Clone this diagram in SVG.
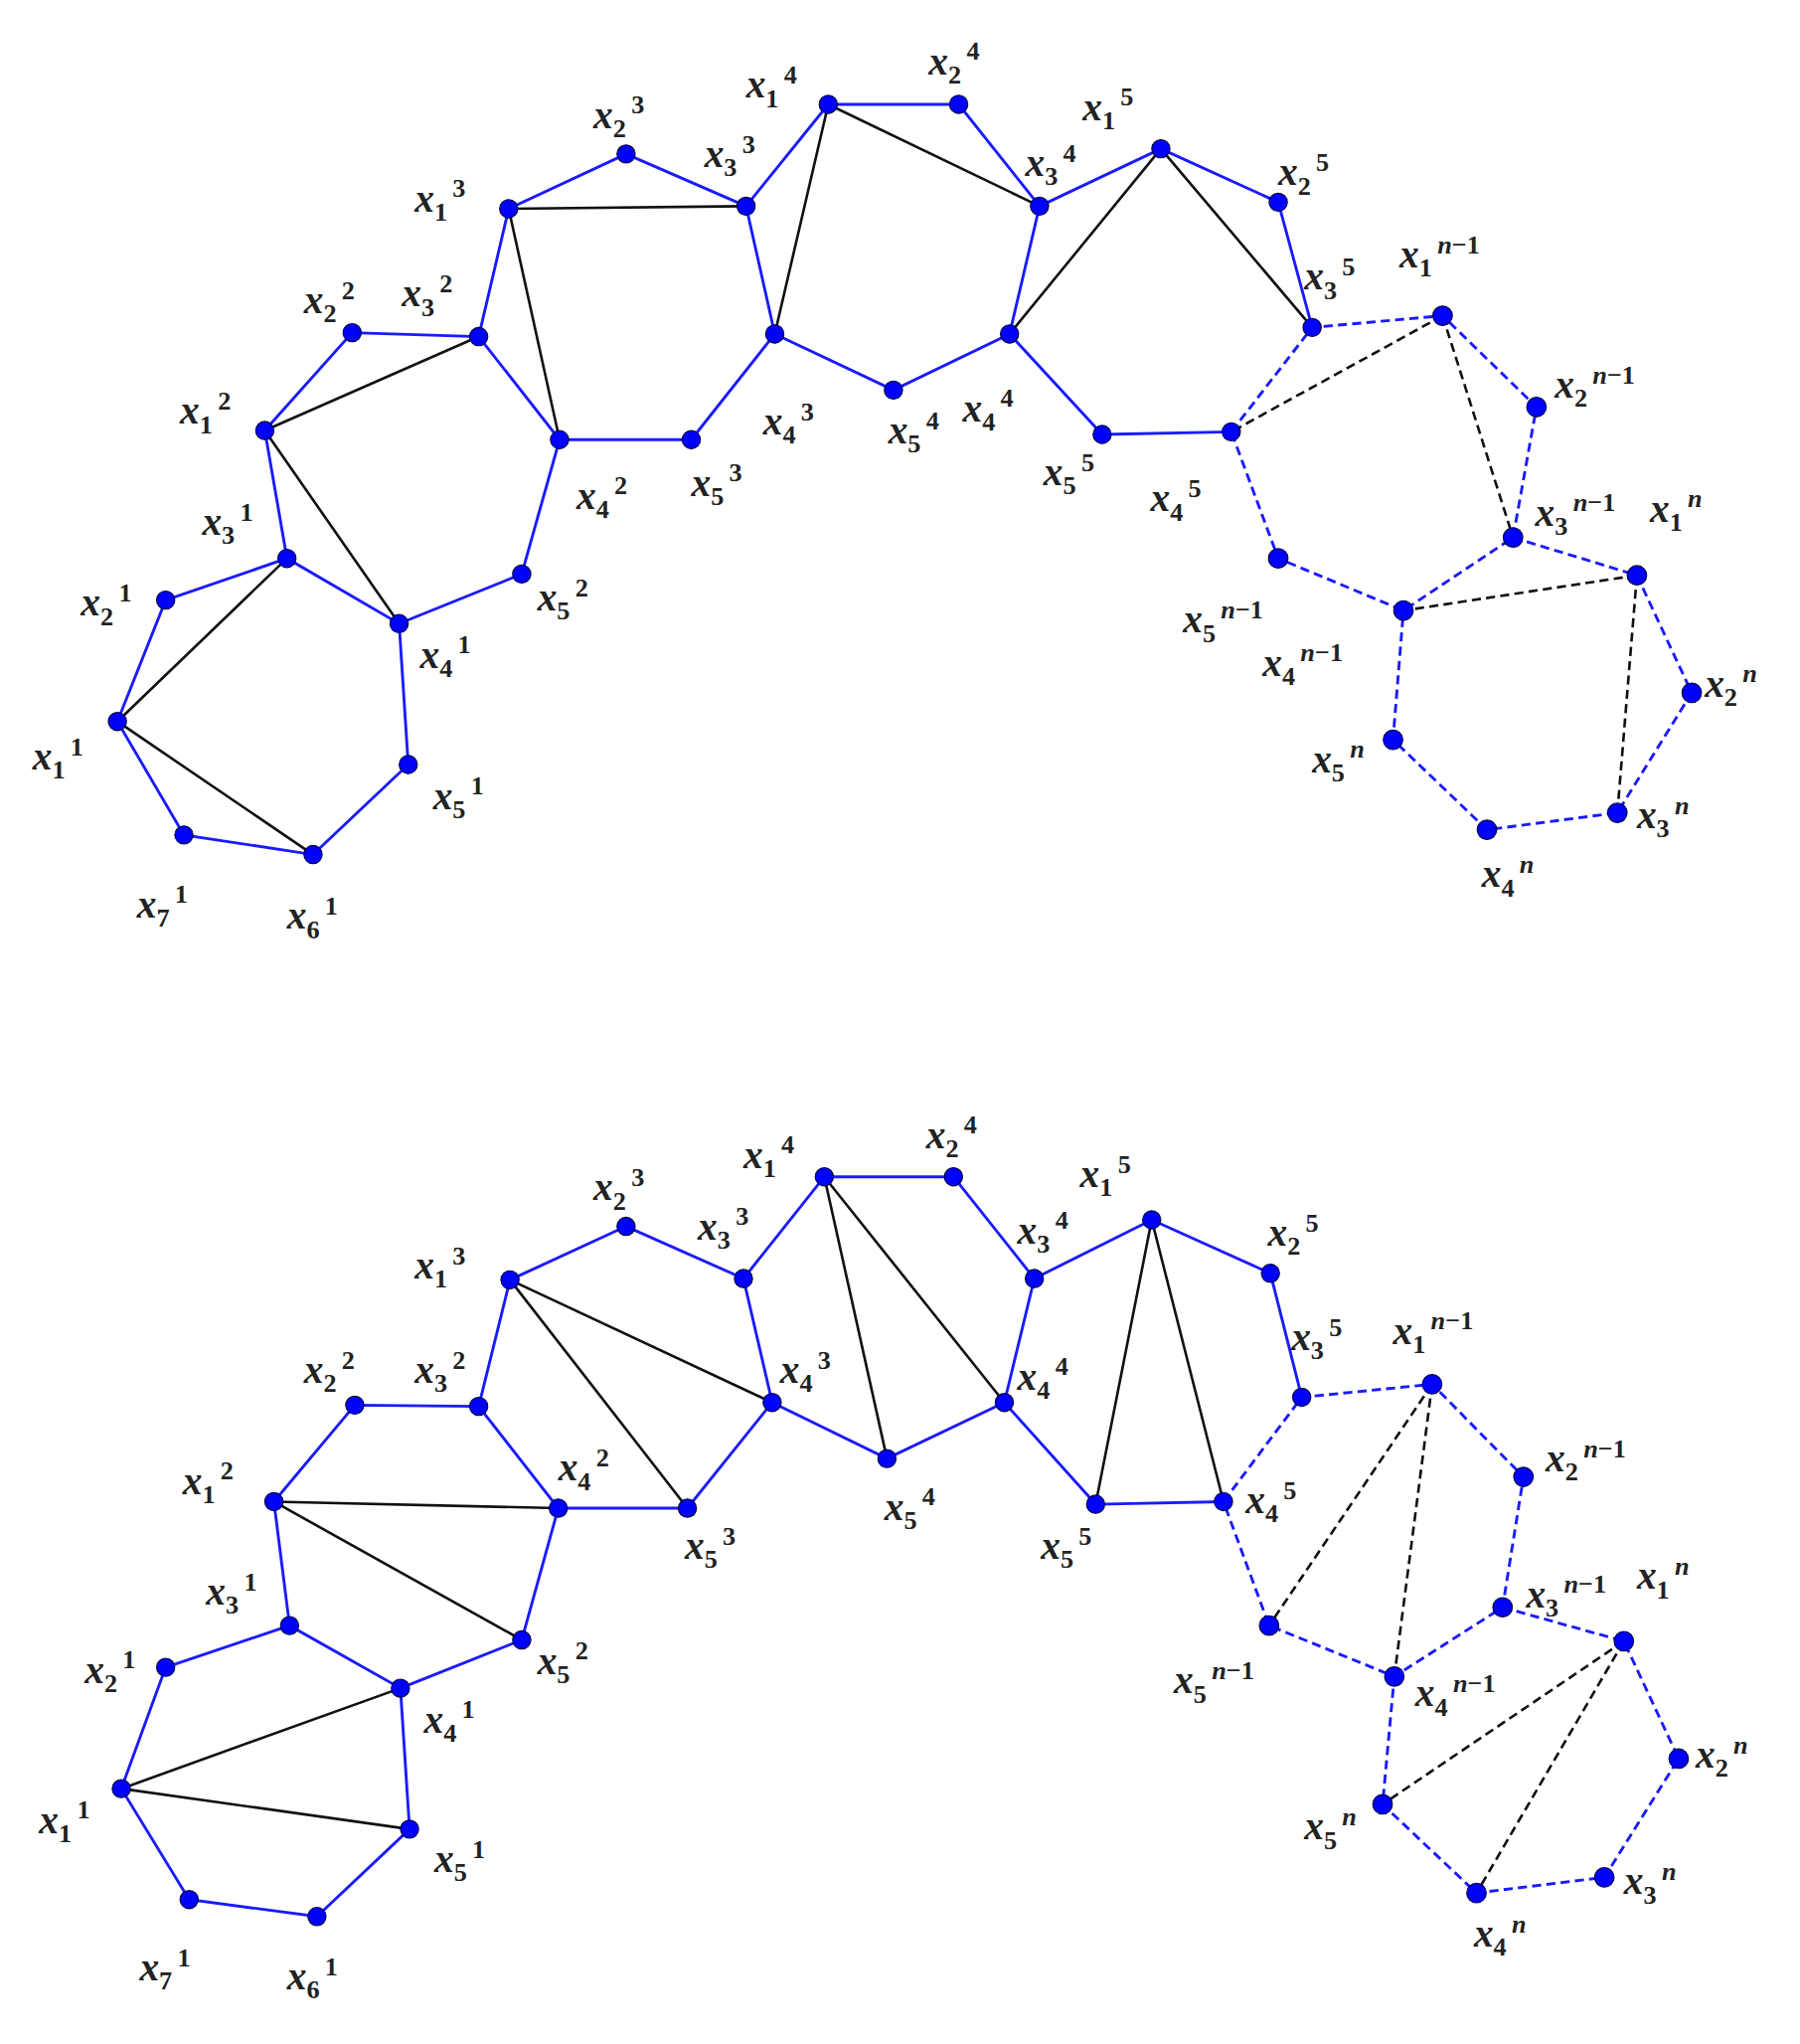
<svg xmlns="http://www.w3.org/2000/svg" width="1811" height="2056" viewBox="0 0 1811 2056">
<style>
.b{stroke:#1a1aff;stroke-width:2.2;fill:none}
.k{stroke:#111;stroke-width:2;fill:none}
.d{stroke-dasharray:7,4}
.n{fill:#0000ff;stroke:#000033;stroke-width:0.8}
text{font-family:'Times New Roman','Liberation Serif','DejaVu Serif',serif;font-style:italic;font-weight:bold;font-size:30px;fill:#222}
.s{font-size:20px;font-style:normal}
.i{font-style:italic}
</style>
<rect width="1811" height="2056" fill="#fff"/>
<g transform="scale(1.3123)">
<g id="connectors">
<path class="b" d="M90,553 L127,460 L220,428 L306,478 L313,586 L240,655 L141,640 Z"/>
<path class="b" d="M220,428 L203,330 L270,255 L367,258 L429,337 L400,440 L306,478"/>
<path class="b" d="M367,258 L390,160 L480,118 L572,158 L594,256 L530,337 L429,337"/>
<path class="b" d="M572,158 L635,80 L735,80 L797,158 L774,256 L685,299 L594,256"/>
<path class="b" d="M797,158 L890,114 L980,155 L1006,251"/>
<path class="b" d="M774,256 L845,333 L944,331"/>
<path class="b d" d="M944,331 L1006,251 L1106,242 L1178,312 L1160,412 L1076,468 L980,428 L944,331"/>
<path class="b d" d="M1160,412 L1255,441 L1297,531 L1240,623 L1140,636 L1068,567 L1076,468"/>
<path class="k" d="M90,553 L220,428 M90,553 L240,655 M203,330 L367,258 M203,330 L306,478 M390,160 L572,158 M390,160 L429,337 M635,80 L797,158 M635,80 L594,256 M890,114 L774,256 M890,114 L1006,251"/>
<path class="k d" d="M1106,242 L944,331 M1106,242 L1160,412 M1255,441 L1076,468 M1255,441 L1240,623"/>
<path class="b" d="M93,1371 L127,1278 L222,1246 L307,1294 L314,1402 L243,1469 L145,1456 Z"/>
<path class="b" d="M222,1246 L210,1151 L272,1077 L367,1078 L428,1156 L400,1257 L307,1294"/>
<path class="b" d="M367,1078 L391,981 L480,940 L570,980 L592,1075 L527,1156 L428,1156"/>
<path class="b" d="M570,980 L632,902 L731,902 L793,980 L770,1075 L680,1118 L592,1075"/>
<path class="b" d="M793,980 L883,935 L974,976 L998,1071"/>
<path class="b" d="M770,1075 L840,1153 L938,1151"/>
<path class="b d" d="M938,1151 L998,1071 L1098,1061 L1168,1132 L1152,1232 L1069,1285 L973,1246 L938,1151"/>
<path class="b d" d="M1152,1232 L1245,1258 L1287,1348 L1230,1439 L1132,1451 L1060,1383 L1069,1285"/>
<path class="k" d="M93,1371 L307,1294 M93,1371 L314,1402 M210,1151 L428,1156 M210,1151 L400,1257 M391,981 L592,1075 M391,981 L527,1156 M632,902 L680,1118 M632,902 L770,1075 M883,935 L840,1153 M883,935 L938,1151"/>
<path class="k d" d="M1098,1061 L973,1246 M1098,1061 L1069,1285 M1245,1258 L1060,1383 M1245,1258 L1132,1451"/>
</g>
<g id="nodes-top">
<g id="t11"><circle class="n" cx="90" cy="553" r="7"/><text x="25" y="590">x<tspan class="s" dy="7">1</tspan><tspan class="s" dx="4" dy="-18">1</tspan></text></g>
<g id="t21"><circle class="n" cx="127" cy="460" r="7"/><text x="62" y="472">x<tspan class="s" dy="7">2</tspan><tspan class="s" dx="4" dy="-18">1</tspan></text></g>
<g id="t31"><circle class="n" cx="220" cy="428" r="7"/><text x="155" y="410">x<tspan class="s" dy="7">3</tspan><tspan class="s" dx="4" dy="-18">1</tspan></text></g>
<g id="t41"><circle class="n" cx="306" cy="478" r="7"/><text x="322" y="512">x<tspan class="s" dy="7">4</tspan><tspan class="s" dx="4" dy="-18">1</tspan></text></g>
<g id="t51"><circle class="n" cx="313" cy="586" r="7"/><text x="332" y="620">x<tspan class="s" dy="7">5</tspan><tspan class="s" dx="4" dy="-18">1</tspan></text></g>
<g id="t61"><circle class="n" cx="240" cy="655" r="7"/><text x="220" y="712">x<tspan class="s" dy="7">6</tspan><tspan class="s" dx="4" dy="-18">1</tspan></text></g>
<g id="t71"><circle class="n" cx="141" cy="640" r="7"/><text x="105" y="703">x<tspan class="s" dy="7">7</tspan><tspan class="s" dx="4" dy="-18">1</tspan></text></g>
<g id="t12"><circle class="n" cx="203" cy="330" r="7"/><text x="138" y="325">x<tspan class="s" dy="7">1</tspan><tspan class="s" dx="4" dy="-18">2</tspan></text></g>
<g id="t22"><circle class="n" cx="270" cy="255" r="7"/><text x="233" y="240">x<tspan class="s" dy="7">2</tspan><tspan class="s" dx="4" dy="-18">2</tspan></text></g>
<g id="t32"><circle class="n" cx="367" cy="258" r="7"/><text x="308" y="235">x<tspan class="s" dy="7">3</tspan><tspan class="s" dx="4" dy="-18">2</tspan></text></g>
<g id="t42"><circle class="n" cx="429" cy="337" r="7"/><text x="442" y="390">x<tspan class="s" dy="7">4</tspan><tspan class="s" dx="4" dy="-18">2</tspan></text></g>
<g id="t52"><circle class="n" cx="400" cy="440" r="7"/><text x="412" y="468">x<tspan class="s" dy="7">5</tspan><tspan class="s" dx="4" dy="-18">2</tspan></text></g>
<g id="t13"><circle class="n" cx="390" cy="160" r="7"/><text x="318" y="162">x<tspan class="s" dy="7">1</tspan><tspan class="s" dx="4" dy="-18">3</tspan></text></g>
<g id="t23"><circle class="n" cx="480" cy="118" r="7"/><text x="455" y="98">x<tspan class="s" dy="7">2</tspan><tspan class="s" dx="4" dy="-18">3</tspan></text></g>
<g id="t33"><circle class="n" cx="572" cy="158" r="7"/><text x="540" y="128">x<tspan class="s" dy="7">3</tspan><tspan class="s" dx="4" dy="-18">3</tspan></text></g>
<g id="t43"><circle class="n" cx="594" cy="256" r="7"/><text x="585" y="333">x<tspan class="s" dy="7">4</tspan><tspan class="s" dx="4" dy="-18">3</tspan></text></g>
<g id="t53"><circle class="n" cx="530" cy="337" r="7"/><text x="530" y="380">x<tspan class="s" dy="7">5</tspan><tspan class="s" dx="4" dy="-18">3</tspan></text></g>
<g id="t14"><circle class="n" cx="635" cy="80" r="7"/><text x="572" y="75">x<tspan class="s" dy="7">1</tspan><tspan class="s" dx="4" dy="-18">4</tspan></text></g>
<g id="t24"><circle class="n" cx="735" cy="80" r="7"/><text x="712" y="57">x<tspan class="s" dy="7">2</tspan><tspan class="s" dx="4" dy="-18">4</tspan></text></g>
<g id="t34"><circle class="n" cx="797" cy="158" r="7"/><text x="786" y="135">x<tspan class="s" dy="7">3</tspan><tspan class="s" dx="4" dy="-18">4</tspan></text></g>
<g id="t44"><circle class="n" cx="774" cy="256" r="7"/><text x="738" y="323">x<tspan class="s" dy="7">4</tspan><tspan class="s" dx="4" dy="-18">4</tspan></text></g>
<g id="t54"><circle class="n" cx="685" cy="299" r="7"/><text x="681" y="340">x<tspan class="s" dy="7">5</tspan><tspan class="s" dx="4" dy="-18">4</tspan></text></g>
<g id="t15"><circle class="n" cx="890" cy="114" r="7"/><text x="830" y="92">x<tspan class="s" dy="7">1</tspan><tspan class="s" dx="4" dy="-18">5</tspan></text></g>
<g id="t25"><circle class="n" cx="980" cy="155" r="7"/><text x="980" y="142">x<tspan class="s" dy="7">2</tspan><tspan class="s" dx="4" dy="-18">5</tspan></text></g>
<g id="t35"><circle class="n" cx="1006" cy="251" r="7"/><text x="1000" y="222">x<tspan class="s" dy="7">3</tspan><tspan class="s" dx="4" dy="-18">5</tspan></text></g>
<g id="t45"><circle class="n" cx="944" cy="331" r="7"/><text x="882" y="392">x<tspan class="s" dy="7">4</tspan><tspan class="s" dx="4" dy="-18">5</tspan></text></g>
<g id="t55"><circle class="n" cx="845" cy="333" r="7"/><text x="800" y="372">x<tspan class="s" dy="7">5</tspan><tspan class="s" dx="4" dy="-18">5</tspan></text></g>
<g id="t1m"><circle class="n" cx="1106" cy="242" r="7.5"/><text x="1073" y="205">x<tspan class="s" dy="7">1</tspan><tspan class="s i" dx="4" dy="-18">n</tspan><tspan class="s">−1</tspan></text></g>
<g id="t2m"><circle class="n" cx="1178" cy="312" r="7.5"/><text x="1192" y="305">x<tspan class="s" dy="7">2</tspan><tspan class="s i" dx="4" dy="-18">n</tspan><tspan class="s">−1</tspan></text></g>
<g id="t3m"><circle class="n" cx="1160" cy="412" r="7.5"/><text x="1177" y="403">x<tspan class="s" dy="7">3</tspan><tspan class="s i" dx="4" dy="-18">n</tspan><tspan class="s">−1</tspan></text></g>
<g id="t4m"><circle class="n" cx="1076" cy="468" r="7.5"/><text x="968" y="518">x<tspan class="s" dy="7">4</tspan><tspan class="s i" dx="4" dy="-18">n</tspan><tspan class="s">−1</tspan></text></g>
<g id="t5m"><circle class="n" cx="980" cy="428" r="7.5"/><text x="907" y="485">x<tspan class="s" dy="7">5</tspan><tspan class="s i" dx="4" dy="-18">n</tspan><tspan class="s">−1</tspan></text></g>
<g id="t1n"><circle class="n" cx="1255" cy="441" r="7.5"/><text x="1265" y="400">x<tspan class="s" dy="7">1</tspan><tspan class="s i" dx="4" dy="-18">n</tspan></text></g>
<g id="t2n"><circle class="n" cx="1297" cy="531" r="7.5"/><text x="1307" y="534">x<tspan class="s" dy="7">2</tspan><tspan class="s i" dx="4" dy="-18">n</tspan></text></g>
<g id="t3n"><circle class="n" cx="1240" cy="623" r="7.5"/><text x="1255" y="635">x<tspan class="s" dy="7">3</tspan><tspan class="s i" dx="4" dy="-18">n</tspan></text></g>
<g id="t4n"><circle class="n" cx="1140" cy="636" r="7.5"/><text x="1136" y="680">x<tspan class="s" dy="7">4</tspan><tspan class="s i" dx="4" dy="-18">n</tspan></text></g>
<g id="t5n"><circle class="n" cx="1068" cy="567" r="7.5"/><text x="1006" y="592">x<tspan class="s" dy="7">5</tspan><tspan class="s i" dx="4" dy="-18">n</tspan></text></g>
</g>
<g id="nodes-bottom">
<g id="b11"><circle class="n" cx="93" cy="1371" r="7"/><text x="30" y="1405">x<tspan class="s" dy="7">1</tspan><tspan class="s" dx="4" dy="-18">1</tspan></text></g>
<g id="b21"><circle class="n" cx="127" cy="1278" r="7"/><text x="65" y="1290">x<tspan class="s" dy="7">2</tspan><tspan class="s" dx="4" dy="-18">1</tspan></text></g>
<g id="b31"><circle class="n" cx="222" cy="1246" r="7"/><text x="158" y="1230">x<tspan class="s" dy="7">3</tspan><tspan class="s" dx="4" dy="-18">1</tspan></text></g>
<g id="b41"><circle class="n" cx="307" cy="1294" r="7"/><text x="325" y="1328">x<tspan class="s" dy="7">4</tspan><tspan class="s" dx="4" dy="-18">1</tspan></text></g>
<g id="b51"><circle class="n" cx="314" cy="1402" r="7"/><text x="333" y="1435">x<tspan class="s" dy="7">5</tspan><tspan class="s" dx="4" dy="-18">1</tspan></text></g>
<g id="b61"><circle class="n" cx="243" cy="1469" r="7"/><text x="220" y="1525">x<tspan class="s" dy="7">6</tspan><tspan class="s" dx="4" dy="-18">1</tspan></text></g>
<g id="b71"><circle class="n" cx="145" cy="1456" r="7"/><text x="107" y="1518">x<tspan class="s" dy="7">7</tspan><tspan class="s" dx="4" dy="-18">1</tspan></text></g>
<g id="b12"><circle class="n" cx="210" cy="1151" r="7"/><text x="140" y="1145">x<tspan class="s" dy="7">1</tspan><tspan class="s" dx="4" dy="-18">2</tspan></text></g>
<g id="b22"><circle class="n" cx="272" cy="1077" r="7"/><text x="233" y="1060">x<tspan class="s" dy="7">2</tspan><tspan class="s" dx="4" dy="-18">2</tspan></text></g>
<g id="b32"><circle class="n" cx="367" cy="1078" r="7"/><text x="318" y="1060">x<tspan class="s" dy="7">3</tspan><tspan class="s" dx="4" dy="-18">2</tspan></text></g>
<g id="b42"><circle class="n" cx="428" cy="1156" r="7"/><text x="428" y="1135">x<tspan class="s" dy="7">4</tspan><tspan class="s" dx="4" dy="-18">2</tspan></text></g>
<g id="b52"><circle class="n" cx="400" cy="1257" r="7"/><text x="412" y="1283">x<tspan class="s" dy="7">5</tspan><tspan class="s" dx="4" dy="-18">2</tspan></text></g>
<g id="b13"><circle class="n" cx="391" cy="981" r="7"/><text x="318" y="980">x<tspan class="s" dy="7">1</tspan><tspan class="s" dx="4" dy="-18">3</tspan></text></g>
<g id="b23"><circle class="n" cx="480" cy="940" r="7"/><text x="455" y="920">x<tspan class="s" dy="7">2</tspan><tspan class="s" dx="4" dy="-18">3</tspan></text></g>
<g id="b33"><circle class="n" cx="570" cy="980" r="7"/><text x="535" y="950">x<tspan class="s" dy="7">3</tspan><tspan class="s" dx="4" dy="-18">3</tspan></text></g>
<g id="b43"><circle class="n" cx="592" cy="1075" r="7"/><text x="598" y="1060">x<tspan class="s" dy="7">4</tspan><tspan class="s" dx="4" dy="-18">3</tspan></text></g>
<g id="b53"><circle class="n" cx="527" cy="1156" r="7"/><text x="525" y="1195">x<tspan class="s" dy="7">5</tspan><tspan class="s" dx="4" dy="-18">3</tspan></text></g>
<g id="b14"><circle class="n" cx="632" cy="902" r="7"/><text x="570" y="895">x<tspan class="s" dy="7">1</tspan><tspan class="s" dx="4" dy="-18">4</tspan></text></g>
<g id="b24"><circle class="n" cx="731" cy="902" r="7"/><text x="710" y="880">x<tspan class="s" dy="7">2</tspan><tspan class="s" dx="4" dy="-18">4</tspan></text></g>
<g id="b34"><circle class="n" cx="793" cy="980" r="7"/><text x="780" y="953">x<tspan class="s" dy="7">3</tspan><tspan class="s" dx="4" dy="-18">4</tspan></text></g>
<g id="b44"><circle class="n" cx="770" cy="1075" r="7"/><text x="780" y="1065">x<tspan class="s" dy="7">4</tspan><tspan class="s" dx="4" dy="-18">4</tspan></text></g>
<g id="b54"><circle class="n" cx="680" cy="1118" r="7"/><text x="678" y="1165">x<tspan class="s" dy="7">5</tspan><tspan class="s" dx="4" dy="-18">4</tspan></text></g>
<g id="b15"><circle class="n" cx="883" cy="935" r="7"/><text x="828" y="910">x<tspan class="s" dy="7">1</tspan><tspan class="s" dx="4" dy="-18">5</tspan></text></g>
<g id="b25"><circle class="n" cx="974" cy="976" r="7"/><text x="972" y="955">x<tspan class="s" dy="7">2</tspan><tspan class="s" dx="4" dy="-18">5</tspan></text></g>
<g id="b35"><circle class="n" cx="998" cy="1071" r="7"/><text x="990" y="1035">x<tspan class="s" dy="7">3</tspan><tspan class="s" dx="4" dy="-18">5</tspan></text></g>
<g id="b45"><circle class="n" cx="938" cy="1151" r="7"/><text x="955" y="1160">x<tspan class="s" dy="7">4</tspan><tspan class="s" dx="4" dy="-18">5</tspan></text></g>
<g id="b55"><circle class="n" cx="840" cy="1153" r="7"/><text x="798" y="1195">x<tspan class="s" dy="7">5</tspan><tspan class="s" dx="4" dy="-18">5</tspan></text></g>
<g id="b1m"><circle class="n" cx="1098" cy="1061" r="7.5"/><text x="1068" y="1030">x<tspan class="s" dy="7">1</tspan><tspan class="s i" dx="4" dy="-18">n</tspan><tspan class="s">−1</tspan></text></g>
<g id="b2m"><circle class="n" cx="1168" cy="1132" r="7.5"/><text x="1185" y="1128">x<tspan class="s" dy="7">2</tspan><tspan class="s i" dx="4" dy="-18">n</tspan><tspan class="s">−1</tspan></text></g>
<g id="b3m"><circle class="n" cx="1152" cy="1232" r="7.5"/><text x="1170" y="1232">x<tspan class="s" dy="7">3</tspan><tspan class="s i" dx="4" dy="-18">n</tspan><tspan class="s">−1</tspan></text></g>
<g id="b4m"><circle class="n" cx="1069" cy="1285" r="7.5"/><text x="1085" y="1308">x<tspan class="s" dy="7">4</tspan><tspan class="s i" dx="4" dy="-18">n</tspan><tspan class="s">−1</tspan></text></g>
<g id="b5m"><circle class="n" cx="973" cy="1246" r="7.5"/><text x="900" y="1298">x<tspan class="s" dy="7">5</tspan><tspan class="s i" dx="4" dy="-18">n</tspan><tspan class="s">−1</tspan></text></g>
<g id="b1n"><circle class="n" cx="1245" cy="1258" r="7.5"/><text x="1255" y="1218">x<tspan class="s" dy="7">1</tspan><tspan class="s i" dx="4" dy="-18">n</tspan></text></g>
<g id="b2n"><circle class="n" cx="1287" cy="1348" r="7.5"/><text x="1300" y="1355">x<tspan class="s" dy="7">2</tspan><tspan class="s i" dx="4" dy="-18">n</tspan></text></g>
<g id="b3n"><circle class="n" cx="1230" cy="1439" r="7.5"/><text x="1245" y="1452">x<tspan class="s" dy="7">3</tspan><tspan class="s i" dx="4" dy="-18">n</tspan></text></g>
<g id="b4n"><circle class="n" cx="1132" cy="1451" r="7.5"/><text x="1130" y="1492">x<tspan class="s" dy="7">4</tspan><tspan class="s i" dx="4" dy="-18">n</tspan></text></g>
<g id="b5n"><circle class="n" cx="1060" cy="1383" r="7.5"/><text x="1000" y="1410">x<tspan class="s" dy="7">5</tspan><tspan class="s i" dx="4" dy="-18">n</tspan></text></g>
</g>
</g>
</svg>
